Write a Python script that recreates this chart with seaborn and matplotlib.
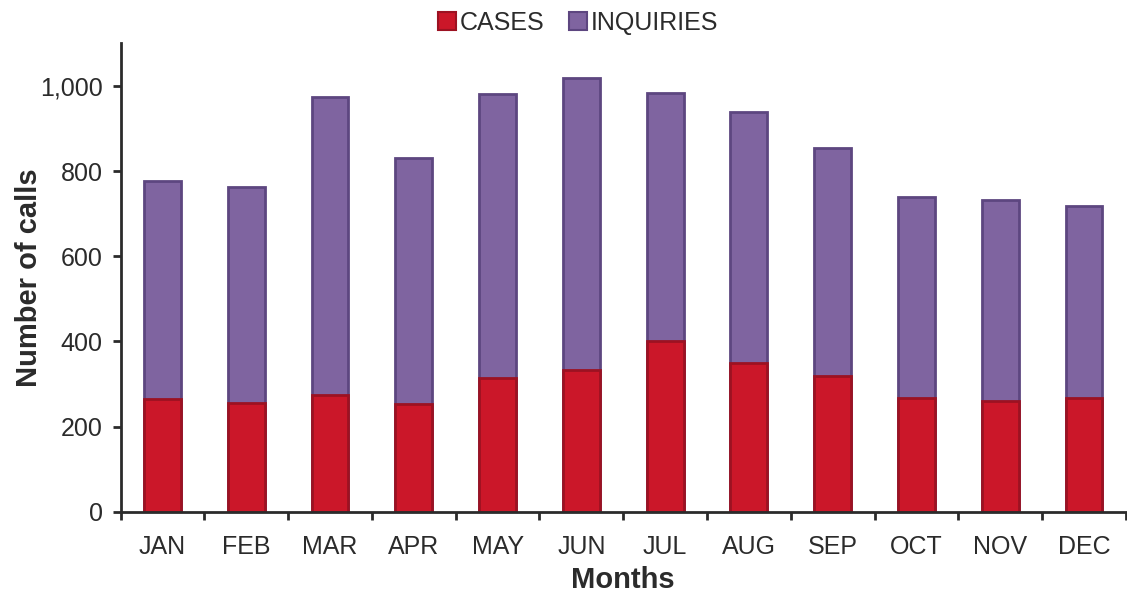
import pandas as pd
import seaborn as sns
import matplotlib.pyplot as plt
from matplotlib.patches import Patch

months = ["JAN", "FEB", "MAR", "APR", "MAY", "JUN", "JUL", "AUG", "SEP", "OCT", "NOV", "DEC"]
cases = [265, 255, 274, 253, 314, 333, 400, 349, 318, 267, 260, 267]
inquiries = [513, 508, 700, 578, 667, 686, 584, 590, 537, 473, 473, 452]

df = pd.DataFrame({"month": months, "cases": cases, "inquiries": inquiries})
df["total"] = df["cases"] + df["inquiries"]

sns.set_style("white")
plt.rcParams['font.family'] = ['Liberation Sans', 'DejaVu Sans']

fig, ax = plt.subplots(figsize=(11.27, 5.95), dpi=100)

red = "#cb1729"
purple = "#7f64a0"
red_edge = "#9c1222"
purple_edge = "#5d4680"

# stacked: draw totals first, then cases on top
sns.barplot(data=df, x="month", y="total", color=purple, width=0.44,
            edgecolor=purple_edge, linewidth=2, saturation=1, ax=ax)
sns.barplot(data=df, x="month", y="cases", color=red, width=0.44,
            edgecolor=red_edge, linewidth=2, saturation=1, ax=ax)

ax.set_ylim(0, 1100)
ax.set_xlim(-0.5, 11.5)
ax.set_yticks([0, 200, 400, 600, 800, 1000])
ax.yaxis.set_major_formatter(plt.FuncFormatter(lambda x, _: f'{x:,.0f}'))

# category labels centred, tick marks at the boundaries
ax.set_xticks([i + 0.5 for i in range(-1, 12)])
ax.set_xticklabels([])
ax.set_xticks(range(12), minor=True)
ax.set_xticklabels(months, minor=True)
ax.tick_params(bottom=True, left=True)
ax.tick_params(axis="x", which="major", direction="out", length=6, width=2, color="#2b2b2b")
ax.tick_params(axis="x", which="minor", length=0, pad=17, labelsize=18, labelcolor="#2b2b2b")
ax.tick_params(axis="y", direction="out", length=6, width=2, color="#2b2b2b",
               labelsize=18, labelcolor="#2b2b2b", pad=7)

for s in ["top", "right"]:
    ax.spines[s].set_visible(False)
for s in ["left", "bottom"]:
    ax.spines[s].set_linewidth(2)
    ax.spines[s].set_color("#2b2b2b")

ax.set_xlabel("Months", fontsize=21, fontweight="bold", color="#2b2b2b", labelpad=5)
ax.set_ylabel("Number of calls", fontsize=21, fontweight="bold", color="#2b2b2b", labelpad=-2)

handles = [Patch(facecolor=red, edgecolor=red_edge, linewidth=1.5, label="CASES"),
           Patch(facecolor=purple, edgecolor=purple_edge, linewidth=1.5, label="INQUIRIES")]
fig.legend(handles=handles, loc="center", bbox_to_anchor=(0.513, 0.962), ncol=2,
           frameon=False, fontsize=18, handlelength=0.7, handleheight=0.7,
           handletextpad=0.15, columnspacing=1.0, labelcolor="#2b2b2b")

plt.subplots_adjust(left=0.107, right=0.999, top=0.927, bottom=0.14)
plt.savefig("out.png")
